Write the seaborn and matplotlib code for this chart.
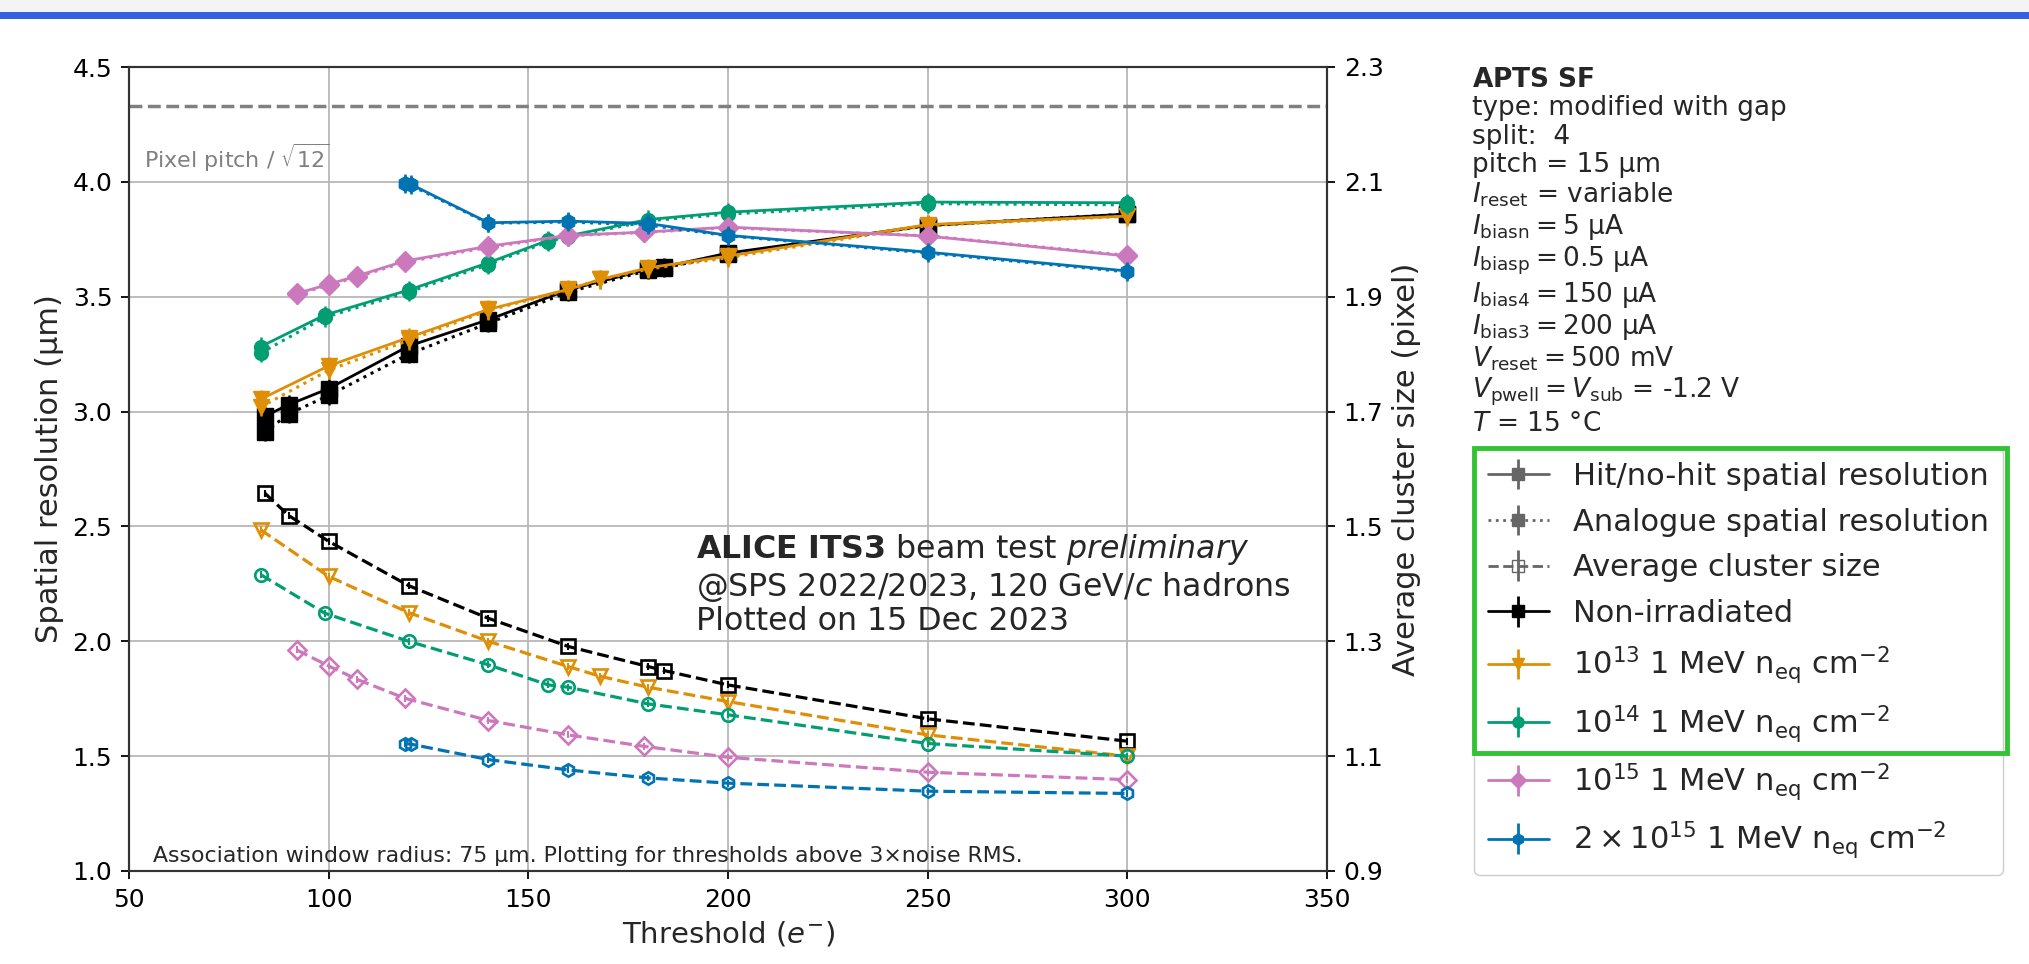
import numpy as np
import matplotlib
matplotlib.use("Agg")
import matplotlib.pyplot as plt
import seaborn as sns
from matplotlib.patches import Rectangle

# ---------------- data ----------------
thr_nonirr = [84, 90, 100, 120, 140, 160, 180, 184, 200, 250, 300]
res_hit_nonirr = [2.98, 3.03, 3.10, 3.285, 3.40, 3.53, 3.62, 3.63, 3.69, 3.81, 3.86]
res_ana_nonirr = [2.91, 2.99, 3.07, 3.25, 3.385, 3.52, 3.615, 3.625, 3.685, 3.81, 3.86]
clus_nonirr = [1.558, 1.519, 1.474, 1.397, 1.340, 1.291, 1.256, 1.249, 1.224, 1.165, 1.126]

thr_1e13 = [83, 100, 120, 140, 160, 168, 180, 200, 250, 300]
res_hit_1e13 = [3.054, 3.199, 3.322, 3.445, 3.532, 3.575, 3.626, 3.677, 3.814, 3.851]
res_ana_1e13 = [3.02, 3.18, 3.31, 3.44, 3.53, 3.575, 3.62, 3.67, 3.81, 3.85]
clus_1e13 = [1.494, 1.413, 1.350, 1.300, 1.256, 1.239, 1.220, 1.195, 1.137, 1.100]

thr_1e14 = [83, 99, 120, 140, 155, 160, 180, 200, 250, 300]
res_hit_1e14 = [3.283, 3.42, 3.529, 3.648, 3.746, 3.765, 3.836, 3.868, 3.912, 3.909]
res_ana_1e14 = [3.255, 3.41, 3.52, 3.64, 3.74, 3.76, 3.83, 3.86, 3.905, 3.90]
clus_1e14 = [1.416, 1.349, 1.300, 1.259, 1.224, 1.220, 1.191, 1.172, 1.122, 1.100]

thr_1e15 = [92, 100, 107, 119, 140, 160, 179, 200, 250, 300]
res_hit_1e15 = [3.514, 3.554, 3.590, 3.655, 3.720, 3.767, 3.781, 3.803, 3.764, 3.677]
res_ana_1e15 = [3.51, 3.55, 3.585, 3.65, 3.715, 3.765, 3.78, 3.80, 3.765, 3.68]
clus_1e15 = [1.285, 1.257, 1.234, 1.201, 1.162, 1.137, 1.117, 1.098, 1.072, 1.059]

thr_2e15 = [119, 120.5, 140, 160, 180, 200, 250, 300]
res_hit_2e15 = [3.996, 3.99, 3.822, 3.829, 3.819, 3.767, 3.694, 3.612]
res_ana_2e15 = [3.99, 3.985, 3.82, 3.825, 3.812, 3.765, 3.69, 3.608]
clus_2e15 = [1.122, 1.121, 1.094, 1.076, 1.062, 1.053, 1.039, 1.035]

res_err = 0.04
clus_err = 0.006
pixel_pitch = 15.0

labels = ["Non-irradiated",
          r"$10^{13}$ 1 MeV n$_{\mathrm{eq}}$ cm$^{-2}$",
          r"$10^{14}$ 1 MeV n$_{\mathrm{eq}}$ cm$^{-2}$",
          r"$10^{15}$ 1 MeV n$_{\mathrm{eq}}$ cm$^{-2}$",
          r"$2\times10^{15}$ 1 MeV n$_{\mathrm{eq}}$ cm$^{-2}$"]

info_lines = [r"$\bf{APTS\ SF}$",
              "type: modified with gap",
              "split:  4",
              "pitch = 15 µm",
              r"$I_\mathrm{reset}$ = variable",
              r"$I_\mathrm{biasn} = 5$ µA",
              r"$I_\mathrm{biasp} = 0.5$ µA",
              r"$I_\mathrm{bias4} = 150$ µA",
              r"$I_\mathrm{bias3} = 200$ µA",
              r"$V_\mathrm{reset} = 500$ mV",
              r"$V_\mathrm{pwell} = V_\mathrm{sub}$ = -1.2 V",
              r"$T$ = 15 °C"]

# ---------------- style ----------------
sns.set_theme(style="ticks", palette="colorblind")
plt.rcParams['font.family'] = ['DejaVu Sans']
plt.rcParams['mathtext.fontset'] = 'dejavusans'
pal = sns.color_palette("colorblind")
colors = ["black", pal[1], pal[2], pal[4], pal[0]]
markers = ["s", "v", "o", "D", "h"]
msizes = [11, 11, 10, 10, 10]

thr_all = [thr_nonirr, thr_1e13, thr_1e14, thr_1e15, thr_2e15]
hit_all = [res_hit_nonirr, res_hit_1e13, res_hit_1e14, res_hit_1e15, res_hit_2e15]
ana_all = [res_ana_nonirr, res_ana_1e13, res_ana_1e14, res_ana_1e15, res_ana_2e15]
clus_all = [clus_nonirr, clus_1e13, clus_1e14, clus_1e15, clus_2e15]

W, H = 2029, 964
fig = plt.figure(figsize=(W / 100, H / 100), dpi=100)
ax = fig.add_axes([129 / W, 1 - 871 / H, (1327 - 129) / W, (871 - 67) / H])
ax2 = ax.twinx()

for i in range(5):
    c, m, ms = colors[i], markers[i], msizes[i]
    x = thr_all[i]
    # hit/no-hit spatial resolution (solid)
    sns.lineplot(x=x, y=hit_all[i], ax=ax, color=c, linestyle='-', linewidth=2,
                 marker=m, markersize=ms, markeredgecolor=c, markerfacecolor=c,
                 markeredgewidth=1, errorbar=None, legend=False, zorder=3)
    ax.errorbar(x, hit_all[i], yerr=res_err, fmt='none', ecolor=c, elinewidth=1.8, zorder=3)
    # analogue spatial resolution (dotted)
    sns.lineplot(x=x, y=ana_all[i], ax=ax, color=c, linestyle=':', linewidth=2.2,
                 marker=m, markersize=ms, markeredgecolor=c, markerfacecolor=c,
                 markeredgewidth=1, errorbar=None, legend=False, zorder=3)
    ax.errorbar(x, ana_all[i], yerr=res_err, fmt='none', ecolor=c, elinewidth=1.8, zorder=3)
    # average cluster size (dashed, open markers, right axis)
    sns.lineplot(x=x, y=clus_all[i], ax=ax2, color=c, linestyle='--', linewidth=2.3,
                 marker=m, markersize=ms * 0.9, markeredgecolor=c, markerfacecolor='none',
                 markeredgewidth=1.9, errorbar=None, legend=False, zorder=3)
    ax2.errorbar(x, clus_all[i], yerr=clus_err, fmt='none', ecolor=c, elinewidth=1.5, zorder=3)

ax.axhline(pixel_pitch / np.sqrt(12), color='gray', linestyle='--', linewidth=2.5, zorder=2)
ax.text(0.0125, (871 - 158) / 804, r"Pixel pitch / $\sqrt{12}$", transform=ax.transAxes,
        color='gray', fontsize=16, va='center', ha='left')

ax.set_xlim(50, 350)
ax.set_ylim(1.0, 4.5)
ax2.set_ylim(0.9, 2.3)
ax.set_xticks(np.arange(50, 351, 50))
ax.set_yticks(np.arange(1.0, 4.51, 0.5))
ax2.set_yticks(np.arange(0.9, 2.31, 0.2))
ax.set_yticklabels([f"{v:.1f}" for v in np.arange(1.0, 4.51, 0.5)])
ax2.set_yticklabels([f"{v:.1f}" for v in np.arange(0.9, 2.31, 0.2)])
ax.grid(True, color='#b8b8b8', linewidth=1.3)
ax.set_axisbelow(True)
for a in (ax, ax2):
    a.tick_params(labelsize=18, length=6, width=1.3, pad=6, colors='black')
    for s in a.spines.values():
        s.set_color('#333333')
        s.set_linewidth(1.5)
        s.set_visible(True)

ax.set_xlabel(r"Threshold ($e^{-}$)", fontsize=21, labelpad=6)
ax.set_ylabel("Spatial resolution (µm)", fontsize=22, labelpad=6)
ax2.set_ylabel("Average cluster size (pixel)", fontsize=22, labelpad=6)

ax.text((696 - 129) / 1198, (871 - 532) / 804,
        r"$\bf{ALICE\ ITS3}$ beam test $\it{preliminary}$" + "\n" +
        r"@SPS 2022/2023, 120 GeV/$\it{c}$ hadrons" + "\n" + "Plotted on 15 Dec 2023",
        transform=ax.transAxes, fontsize=22.8, va='top', ha='left', linespacing=1.1)
ax.text(0.02, 0.006,
        "Association window radius: 75 µm. Plotting for thresholds above 3×noise RMS.",
        transform=ax.transAxes, fontsize=15.8, va='bottom', ha='left')

fig.text(1472 / W, 1 - 67 / H, "\n".join(info_lines), fontsize=19, va='top', ha='left',
         linespacing=1.12)

# legend
handles = []
leg_labels = ["Hit/no-hit spatial resolution", "Analogue spatial resolution",
              "Average cluster size"] + labels
gray = '#666666'
handles.append(ax.errorbar([np.nan], [np.nan], yerr=[0.1], color=gray, ls='-', marker='s',
                           ms=8, lw=2, elinewidth=2))
handles.append(ax.errorbar([np.nan], [np.nan], yerr=[0.1], color=gray, ls=':', marker='s',
                           ms=8, lw=2, elinewidth=2))
handles.append(ax.errorbar([np.nan], [np.nan], yerr=[0.1], color=gray, ls='--', marker='s',
                           ms=8, mfc='none', lw=2, elinewidth=2))
for i in range(5):
    handles.append(ax.errorbar([np.nan], [np.nan], yerr=[0.1], color=colors[i], ls='-',
                               marker=markers[i], ms=8, lw=2, elinewidth=2))
leg = fig.legend(handles, leg_labels, loc='upper left', bbox_to_anchor=(1474 / W, 1 - 448 / H),
                 bbox_transform=fig.transFigure, borderaxespad=0, fontsize=22, frameon=True,
                 fancybox=True, edgecolor='#cccccc', framealpha=1.0, labelspacing=0.55,
                 borderpad=0.45)

# decorations of the screenshot: top blue bar and green highlight box
fig.add_artist(Rectangle((0, 1 - 12 / H), 1, 12 / H, transform=fig.transFigure,
                         facecolor='#f4f4f4', edgecolor='none', zorder=20))
fig.add_artist(Rectangle((0, 1 - 19 / H), 1, 7 / H, transform=fig.transFigure,
                         facecolor='#3561e0', edgecolor='none', zorder=21))
fig.add_artist(Rectangle((1474 / W, 1 - 753 / H), (2007 - 1474) / W, (753 - 448) / H,
                         transform=fig.transFigure, fill=False, edgecolor='#33c233',
                         linewidth=3.5, zorder=30))

fig.savefig("out.png", dpi=100)
